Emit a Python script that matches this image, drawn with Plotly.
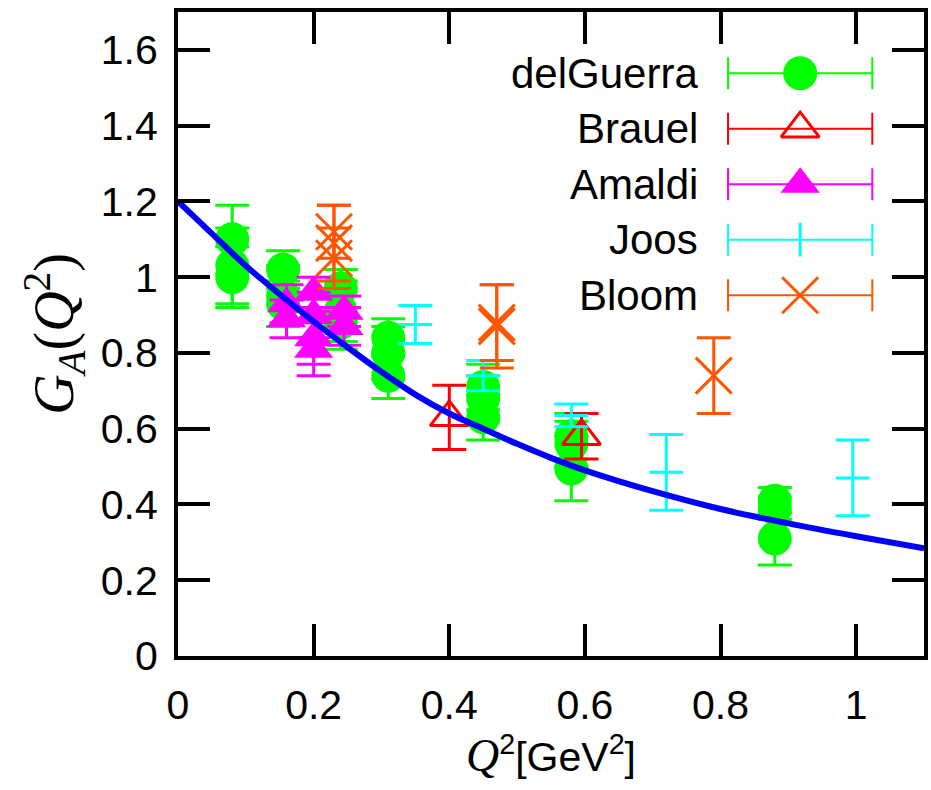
import plotly.graph_objects as go

# ---- data ----
delguerra_x = [0.08, 0.08, 0.08, 0.155, 0.155, 0.155, 0.24, 0.24, 0.24, 0.31, 0.31, 0.31,
               0.45, 0.45, 0.45, 0.58, 0.58, 0.58, 0.88, 0.88, 0.88]
delguerra_y = [1.10, 1.03, 1.00, 1.02, 0.95, 0.93, 0.97, 0.91, 0.88, 0.84, 0.80, 0.74,
               0.71, 0.68, 0.63, 0.58, 0.56, 0.495, 0.41, 0.39, 0.31]
delguerra_err = [0.09, 0.10, 0.08, 0.05, 0.08, 0.06, 0.05, 0.08, 0.07, 0.05, 0.07, 0.06,
                 0.06, 0.06, 0.06, 0.06, 0.06, 0.085, 0.035, 0.03, 0.07]

brauel_x = [0.40, 0.595]
brauel_y = [0.63, 0.58]
brauel_err = [0.085, 0.06]

amaldi_x = [0.16, 0.16, 0.20, 0.20, 0.20, 0.20, 0.245, 0.245]
amaldi_y = [0.93, 0.89, 0.96, 0.90, 0.84, 0.81, 0.91, 0.87]
amaldi_err = [0.05, 0.05, 0.04, 0.06, 0.07, 0.07, 0.04, 0.05]

joos_x = [0.35, 0.45, 0.58, 0.72, 0.995]
joos_y = [0.875, 0.74, 0.635, 0.485, 0.47]
joos_err = [0.05, 0.04, 0.03, 0.10, 0.10]

bloom_x = [0.23, 0.23, 0.23, 0.47, 0.47, 0.79]
bloom_y = [1.12, 1.09, 1.05, 0.88, 0.87, 0.74]
bloom_err = [0.07, 0.10, 0.08, 0.10, 0.11, 0.10]

curve_x = [0, 0.05, 0.1, 0.15, 0.2, 0.25, 0.3, 0.35, 0.4, 0.45, 0.5, 0.55, 0.6,
           0.7, 0.8, 0.9, 1.0, 1.1]
curve_y = [1.20, 1.115, 1.03, 0.955, 0.883, 0.815, 0.75, 0.69, 0.64, 0.60, 0.56,
           0.523, 0.49, 0.435, 0.388, 0.35, 0.316, 0.284]

x_ticks = [0, 0.2, 0.4, 0.6, 0.8, 1.0]
x_ticklabels = ["0", "0.2", "0.4", "0.6", "0.8", "1"]
y_ticks = [0, 0.2, 0.4, 0.6, 0.8, 1.0, 1.2, 1.4, 1.6]
y_ticklabels = ["0", "0.2", "0.4", "0.6", "0.8", "1", "1.2", "1.4", "1.6"]

series = [
    ("delGuerra", delguerra_x, delguerra_y, delguerra_err, "#00FF00",
     dict(symbol="circle", size=34, color="#00FF00")),
    ("Brauel", brauel_x, brauel_y, brauel_err, "#FF0000",
     dict(symbol="triangle-up-open", size=33, color="#FF0000", line=dict(width=3, color="#FF0000"))),
    ("Amaldi", amaldi_x, amaldi_y, amaldi_err, "#FF00FF",
     dict(symbol="triangle-up", size=34, color="#FF00FF")),
    ("Joos", joos_x, joos_y, joos_err, "#00FFFF",
     dict(symbol="line-ew-open", size=24, color="#00FFFF", line=dict(width=3, color="#00FFFF"))),
    ("Bloom", bloom_x, bloom_y, bloom_err, "#FF5500",
     dict(symbol="x-thin-open", size=36, color="#FF5500", line=dict(width=3, color="#FF5500"))),
]

FONT = "Liberation Sans, Arial, sans-serif"
SERIF = "Liberation Serif, Times New Roman, serif"

fig = go.Figure()

for name, xs, ys, es, col, mk in series:
    fig.add_trace(go.Scatter(
        x=xs, y=ys, mode="markers", name=name, marker=mk,
        error_y=dict(type="data", array=es, visible=True, color=col, thickness=3, width=17),
        showlegend=False, xaxis="x", yaxis="y"))

fig.add_trace(go.Scatter(x=curve_x, y=curve_y, mode="lines", line=dict(color="#0000FF", width=6,
                         shape="spline"), showlegend=False, xaxis="x", yaxis="y"))

# ---- custom legend (samples to the right of right-aligned labels) ----
leg_cx = 0.834
leg_half = 0.0967
row0 = 0.905
row_step = 0.0862
annotations = []
for i, (name, xs, ys, es, col, mk) in enumerate(series):
    yy = row0 - i * row_step
    m = dict(mk)
    if name == "Joos":
        m = dict(symbol="line-ns-open", size=24, color=col, line=dict(width=3, color=col))
    fig.add_trace(go.Scatter(
        x=[leg_cx], y=[yy], mode="markers", marker=m,
        error_x=dict(type="constant", value=leg_half, visible=True, color=col, thickness=2, width=16),
        showlegend=False, xaxis="x2", yaxis="y2", hoverinfo="skip"))
    annotations.append(dict(text=name, x=0.70, y=yy, xref="paper", yref="paper",
                            xanchor="right", yanchor="middle", showarrow=False,
                            font=dict(family=FONT, size=42, color="black")))

axis_common = dict(showline=True, linewidth=4, linecolor="black", mirror="ticks",
                   ticks="inside", ticklen=32, tickwidth=4, tickcolor="black",
                   showgrid=False, zeroline=False,
                   tickfont=dict(family=FONT, size=41, color="black"))

fig.update_layout(
    width=931, height=790,
    margin=dict(l=178, r=3, t=12, b=134),
    paper_bgcolor="white", plot_bgcolor="white",
    xaxis=dict(range=[0, 1.1], tickvals=x_ticks, ticktext=x_ticklabels,
               ticklabelstandoff=10,
               title=dict(text='<span style="font-family:Liberation Serif;font-size:46px"><i>Q</i></span><sup>2</sup>[GeV<sup>2</sup>]',
                          font=dict(family=FONT, size=41, color="black"), standoff=2),
               **axis_common),
    yaxis=dict(range=[0, 1.7], tickvals=y_ticks, ticktext=y_ticklabels,
               ticklabelstandoff=8,
               title=dict(text="<i>G</i><sub><i>A</i></sub>(<i>Q</i><sup>2</sup>)",
                          font=dict(family=SERIF, size=56, color="black"), standoff=10),
               **axis_common),
    xaxis2=dict(range=[0, 1], overlaying="x", visible=False, anchor="y2", fixedrange=True),
    yaxis2=dict(range=[0, 1], overlaying="y", visible=False, anchor="x2", fixedrange=True),
    annotations=annotations,
    showlegend=False,
)

fig.write_html("out.html")
